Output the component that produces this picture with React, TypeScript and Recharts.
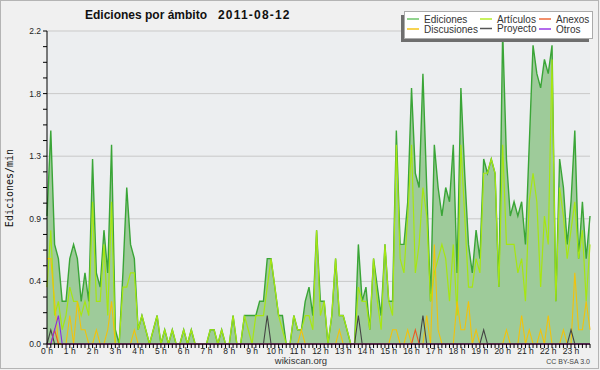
import { ComposedChart, Area, Line, XAxis, YAxis, CartesianGrid } from "recharts";

// 10-minute bins over the day, values in edits per minute
const hourLabels = [
  "0 h", "1 h", "2 h", "3 h", "4 h", "5 h", "6 h", "7 h", "8 h", "9 h", "10 h", "11 h",
  "12 h", "13 h", "14 h", "15 h", "16 h", "17 h", "18 h", "19 h", "20 h", "21 h", "22 h", "23 h",
];

const ediciones = [
  0.9, 1.5, 0.7, 0.6, 0.3, 0.3, 0.6, 0.7, 0.6, 0.3, 0.5, 0.3,
  1.3, 0.5, 0.4, 0.8, 0.5, 1.4, 0.1, 0, 0.5, 1.1, 0.7, 0.6,
  0.1, 0.2, 0.1, 0, 0.1, 0.2, 0, 0.1, 0, 0.1, 0, 0,
  0.1, 0, 0.1, 0, 0, 0, 0, 0.1, 0.1, 0, 0.1, 0,
  0, 0.2, 0, 0, 0.2, 0.2, 0.2, 0.2, 0.3, 0.3, 0.6, 0.6,
  0.4, 0.2, 0.2, 0, 0, 0.2, 0.1, 0.1, 0.3, 0.4, 0.2, 0.8,
  0.3, 0.3, 0, 0.2, 0.6, 0.2, 0.2, 0.1, 0, 0, 0.7, 0.3,
  0.4, 0.1, 0.6, 0.4, 0.2, 0.7, 0.3, 0.3, 1.5, 0.7, 0.7, 1.0,
  1.8, 1.2, 1.1, 1.9, 1.1, 0.3, 1.4, 1.1, 0.9, 1.1, 1.0, 1.4,
  0.5, 1.8, 1.2, 0.7, 0.5, 0.8, 0.6, 1.3, 1.2, 1.3, 1.2, 0.4,
  2.2, 1.3, 0.9, 1.0, 0.9, 1.0, 0.7, 1.4, 2.1, 1.9, 1.8, 2.0,
  1.9, 2.1, 0.3, 1.3, 1.1, 0.7, 1.0, 1.5, 0.6, 1.0, 0.6, 0.9,
];

const articulos = [
  0.4, 0.8, 0.2, 0.3, 0.1, 0.2, 0.4, 0.3, 0.3, 0.2, 0.3, 0.2,
  1.0, 0.3, 0.3, 0.7, 0.2, 1.0, 0, 0, 0.4, 0.4, 0.5, 0.5,
  0.1, 0.2, 0.1, 0, 0.1, 0.2, 0, 0.1, 0, 0.1, 0, 0,
  0.1, 0, 0.1, 0, 0, 0, 0, 0.1, 0.1, 0, 0.1, 0,
  0, 0.2, 0, 0, 0.2, 0.1, 0, 0.2, 0.2, 0.2, 0.4, 0.6,
  0.4, 0.2, 0.1, 0, 0, 0.2, 0.1, 0.1, 0.2, 0.2, 0.1, 0.8,
  0.2, 0.3, 0, 0.2, 0.6, 0.2, 0.2, 0.1, 0, 0, 0.4, 0.3,
  0.3, 0.1, 0.6, 0.3, 0.1, 0.7, 0.3, 0.2, 1.4, 0.6, 0.5, 0.9,
  1.4, 0.5, 0.7, 1.1, 0.9, 0.3, 0.5, 0.6, 0.7, 0.6, 0.3, 0.7,
  0.2, 1.4, 0.9, 0.4, 0.4, 0.6, 0.5, 1.2, 1.2, 1.3, 1.2, 0.4,
  1.4, 0.7, 0.7, 0.7, 0.5, 0.6, 0.3, 1.0, 1.2, 1.0, 0.4, 0.9,
  0.7, 2.0, 0.3, 1.1, 0.9, 0.6, 0.8, 1.0, 0.6, 0.8, 0.3, 0.7,
];

const discusiones = [
  0.6, 0.6, 0.3, 0, 0, 0, 0.2, 0, 0.3, 0.1, 0.1, 0,
  0, 0.1, 0, 0, 0.1, 0.3, 0, 0, 0, 0, 0, 0.1,
  0, 0, 0, 0, 0, 0, 0, 0, 0, 0, 0, 0,
  0, 0, 0, 0, 0, 0, 0, 0, 0, 0, 0, 0,
  0, 0, 0, 0, 0, 0, 0, 0, 0, 0, 0, 0,
  0, 0, 0, 0, 0, 0, 0, 0.1, 0, 0, 0, 0,
  0, 0, 0, 0, 0, 0.1, 0, 0, 0, 0, 0, 0,
  0, 0, 0, 0, 0, 0, 0, 0.1, 0.1, 0, 0, 0.1,
  0, 0, 0, 0, 0.2, 0, 0.7, 0.1, 0, 0, 0, 0,
  0.3, 0.1, 0.1, 0.3, 0, 0.1, 0, 0, 0, 0, 0, 0,
  0, 0.1, 0, 0, 0, 0.2, 0, 0.1, 0, 0, 0.1, 0,
  0.2, 0, 0, 0, 0.1, 0, 0, 0.5, 0.1, 0.1, 0.3, 0.1,
];

const proyecto = [
  0, 0.1, 0, 0, 0, 0, 0, 0, 0, 0, 0, 0,
  0, 0, 0, 0, 0, 0, 0, 0, 0, 0, 0, 0,
  0, 0, 0, 0, 0, 0, 0, 0, 0, 0, 0, 0,
  0, 0, 0, 0, 0, 0, 0, 0, 0, 0, 0, 0,
  0, 0, 0, 0, 0, 0, 0, 0, 0, 0, 0.2, 0,
  0, 0, 0, 0, 0, 0, 0, 0, 0, 0, 0, 0,
  0, 0, 0, 0, 0, 0, 0, 0, 0, 0, 0.2, 0,
  0, 0, 0, 0, 0, 0, 0, 0, 0, 0, 0, 0,
  0, 0, 0, 0.2, 0, 0, 0, 0, 0, 0, 0, 0,
  0, 0, 0, 0, 0, 0, 0, 0.1, 0, 0, 0, 0,
  0, 0, 0, 0, 0, 0, 0, 0, 0, 0, 0, 0,
  0, 0, 0, 0, 0, 0, 0.1, 0, 0, 0, 0, 0,
];

const anexos = [
  0, 0, 0.1, 0, 0, 0, 0, 0, 0, 0, 0, 0,
  0, 0, 0, 0, 0, 0, 0, 0, 0, 0, 0, 0,
  0, 0, 0, 0, 0, 0, 0, 0, 0, 0, 0, 0,
  0, 0, 0, 0, 0, 0, 0, 0, 0, 0, 0, 0,
  0, 0, 0, 0, 0, 0, 0, 0, 0, 0, 0, 0,
  0, 0, 0, 0, 0, 0, 0, 0, 0, 0, 0, 0,
  0, 0, 0, 0, 0, 0, 0, 0, 0, 0, 0, 0,
  0, 0, 0, 0, 0, 0, 0, 0, 0, 0, 0, 0,
  0, 0.1, 0, 0, 0, 0, 0, 0, 0, 0, 0, 0,
  0, 0, 0, 0, 0, 0, 0, 0, 0, 0, 0, 0,
  0, 0, 0, 0, 0, 0, 0, 0, 0, 0, 0, 0,
  0, 0, 0, 0, 0, 0, 0, 0, 0, 0, 0, 0,
];

const otros = [
  0, 0, 0.1, 0.2, 0, 0, 0, 0, 0, 0, 0, 0,
  0, 0, 0, 0, 0, 0, 0, 0, 0, 0, 0, 0,
  0, 0, 0, 0, 0, 0, 0, 0, 0, 0, 0, 0,
  0, 0, 0, 0, 0, 0, 0, 0, 0, 0, 0, 0,
  0, 0, 0, 0, 0, 0, 0, 0, 0, 0, 0, 0,
  0, 0, 0, 0, 0, 0, 0, 0, 0, 0, 0, 0,
  0, 0, 0, 0, 0, 0, 0, 0, 0, 0, 0, 0,
  0, 0, 0, 0, 0, 0, 0, 0, 0, 0, 0, 0,
  0, 0, 0, 0, 0, 0, 0, 0, 0, 0, 0, 0,
  0, 0, 0, 0, 0, 0, 0, 0, 0, 0, 0, 0,
  0, 0, 0, 0, 0, 0, 0, 0, 0, 0, 0, 0,
  0, 0, 0, 0, 0, 0, 0, 0, 0, 0, 0, 0,
];

const yTicks = [
  0, 0.11, 0.22, 0.33, 0.44, 0.55, 0.66, 0.77, 0.88, 0.99, 1.1,
  1.21, 1.32, 1.43, 1.54, 1.65, 1.76, 1.87, 1.98, 2.09, 2.2,
];
const yMajor = [0, 0.44, 0.88, 1.32, 1.76, 2.2];

const bins = ediciones.map((_, i) => i);
const data = bins.map((i) => ({
  i,
  ediciones: ediciones[i],
  articulos: articulos[i],
  discusiones: discusiones[i],
  proyecto: proyecto[i],
  anexos: anexos[i],
  otros: otros[i],
}));

const FONT = "'Liberation Sans', Arial, sans-serif";

function XTick({ x, y, payload }: any) {
  const i = payload.value;
  const label = i % 6 === 0 ? hourLabels[i / 6] : null;
  return (
    <g>
      <line x1={x} x2={x} y1={y} y2={y + 4} stroke="#000" />
      {label && (
        <text x={x} y={y + 10} textAnchor="middle" fontSize={8.5} fill="#222" fontFamily={FONT}>
          {label}
        </text>
      )}
    </g>
  );
}

function YTick({ x, y, payload }: any) {
  const v = payload.value;
  const major = yMajor.some((t) => Math.abs(t - v) < 1e-6);
  return (
    <g>
      <line x1={x - 4} x2={x} y1={y} y2={y} stroke="#000" />
      {major && (
        <text x={x - 6} y={y + 3} textAnchor="end" fontSize={8.5} fill="#222" fontFamily={FONT}>
          {v.toFixed(1)}
        </text>
      )}
    </g>
  );
}

const legendItems = [
  { name: "Ediciones", color: "#6cc468", x: 407, y: 19 },
  { name: "Artículos", color: "#b4ec2a", x: 480, y: 19 },
  { name: "Anexos", color: "#ee6a3a", x: 539, y: 19 },
  { name: "Discusiones", color: "#f5c518", x: 407, y: 29 },
  { name: "Proyecto", color: "#555555", x: 480, y: 28.5 },
  { name: "Otros", color: "#9a3ae6", x: 539, y: 29 },
];

export default function App() {
  return (
    <div
      style={{
        position: "absolute",
        left: 0,
        top: 0,
        width: 600,
        height: 370,
        background: "#f0f0f0",
        fontFamily: FONT,
      }}
    >
      <div
        style={{
          position: "absolute",
          left: 0,
          top: 0,
          width: 599,
          height: 369,
          border: "1px solid #b4b4b4",
          boxSizing: "border-box",
        }}
      />
      <ComposedChart
        width={600}
        height={370}
        data={data}
        margin={{ top: 31, right: 10, bottom: 10, left: 7 }}
        style={{ position: "absolute", left: 0, top: 0 }}
      >
        <CartesianGrid
          vertical={false}
          horizontalValues={[0.44, 0.88, 1.32, 1.76, 2.2]}
          stroke="#c9c9c9"
          fill="#eceef0"
        />
        <XAxis
          dataKey="i"
          type="number"
          domain={[0, 143]}
          ticks={bins}
          interval={0}
          tick={<XTick />}
          tickLine={false}
          tickSize={0}
          tickMargin={0}
          axisLine={{ stroke: "#000" }}
          height={16}
        />
        <YAxis
          type="number"
          domain={[0, 2.2]}
          ticks={yTicks}
          interval={0}
          tick={<YTick />}
          tickLine={false}
          tickSize={0}
          tickMargin={0}
          axisLine={{ stroke: "#000" }}
          width={40}
        />
        <Area
          type="linear"
          dataKey="ediciones"
          stroke="#3aa537"
          strokeWidth={1.4}
          fill="#9ecb9a"
          fillOpacity={1}
          dot={false}
          activeDot={false}
          isAnimationActive={false}
        />
        <Line type="linear" dataKey="articulos" stroke="#a6e612" strokeWidth={1.2} dot={false} isAnimationActive={false} />
        <Line type="linear" dataKey="discusiones" stroke="#f2c20c" strokeWidth={1.1} dot={false} isAnimationActive={false} />
        <Line type="linear" dataKey="proyecto" stroke="#444444" strokeWidth={1.1} dot={false} isAnimationActive={false} />
        <Line type="linear" dataKey="anexos" stroke="#ec5a24" strokeWidth={1.1} dot={false} isAnimationActive={false} />
        <Line type="linear" dataKey="otros" stroke="#8a2be2" strokeWidth={1.1} dot={false} isAnimationActive={false} />
      </ComposedChart>

      <svg
        width={600}
        height={370}
        style={{ position: "absolute", left: 0, top: 0, pointerEvents: "none" }}
      >
        <text x={85} y={19} fontSize={12} fontWeight="bold" fill="#111" fontFamily={FONT}>
          Ediciones por ámbito
        </text>
        <text x={218} y={19} fontSize={12} fontWeight="bold" fill="#111" fontFamily={FONT} letterSpacing={1.2}>
          2011-08-12
        </text>
        <text
          x={13}
          y={188}
          transform="rotate(-90 13 188)"
          textAnchor="middle"
          fontSize={10}
          fill="#111"
          fontFamily="'DejaVu Sans Mono', monospace"
        >
          Ediciones/min
        </text>
        <text x={301} y={364} textAnchor="middle" fontSize={9.5} fill="#333" fontFamily={FONT}>
          wikiscan.org
        </text>
        <text x={590} y={364} textAnchor="end" fontSize={7} fill="#444" fontFamily={FONT}>
          CC BY-SA 3.0
        </text>

        <rect x={401} y={15} width={188} height={27} fill="#6e6e6e" />
        <rect x={404.5} y={11.5} width={188} height={27} fill="#ffffff" stroke="#ababab" />
        {legendItems.map((it) => (
          <g key={it.name}>
            <line x1={it.x} x2={it.x + 12} y1={it.y} y2={it.y} stroke={it.color} strokeWidth={1.5} />
            <text x={it.x + 17} y={it.y + 3.5} fontSize={10} fill="#333" fontFamily={FONT}>
              {it.name}
            </text>
          </g>
        ))}
      </svg>
    </div>
  );
}
